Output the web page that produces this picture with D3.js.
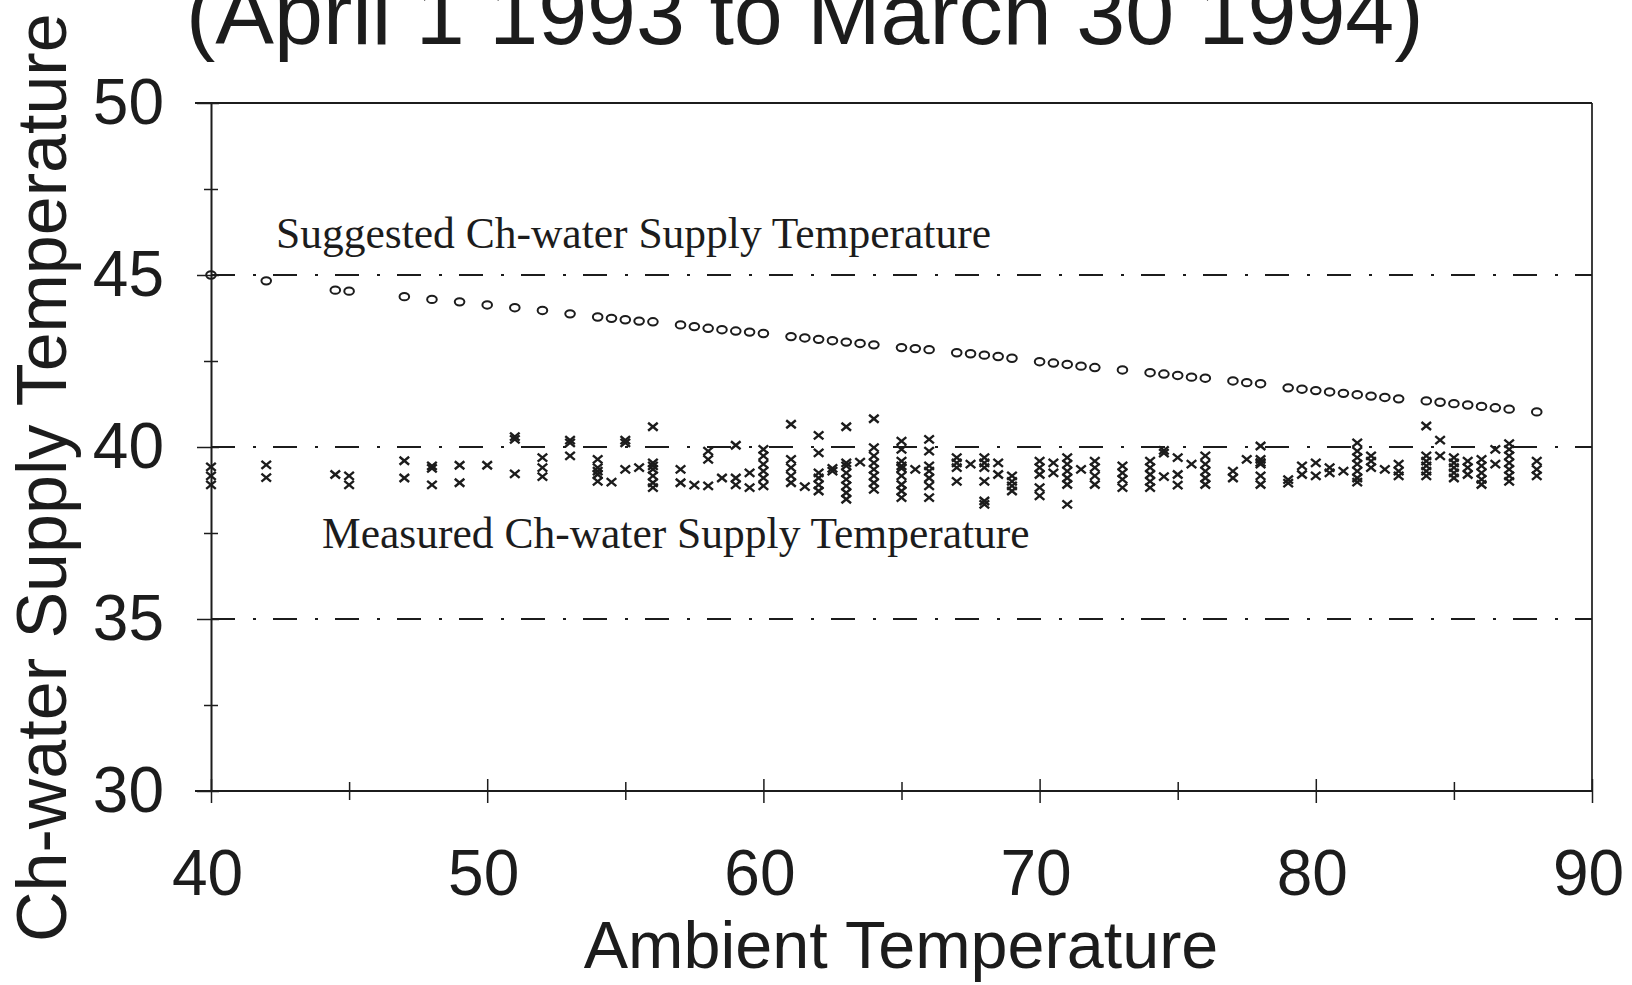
<!DOCTYPE html>
<html>
<head>
<meta charset="utf-8">
<script src="https://cdn.jsdelivr.net/npm/d3@7"></script>
<style>
  body { margin: 0; background: #fff; }
  svg { display: block; }
</style>
</head>
<body>
<div id="chart"></div>
<script>
// suggested supply temperature (circles)
var suggestX = [40, 42, 44.5, 45, 47, 48, 49, 50, 51, 52, 53, 54, 54.5, 55, 55.5, 56,
  57, 57.5, 58, 58.5, 59, 59.5, 60, 61, 61.5, 62, 62.5, 63, 63.5, 64, 65, 65.5, 66,
  67, 67.5, 68, 68.5, 69, 70, 70.5, 71, 71.5, 72, 73, 74, 74.5, 75, 75.5, 76,
  77, 77.5, 78, 79, 79.5, 80, 80.5, 81, 81.5, 82, 82.5, 83, 84, 84.5, 85, 85.5, 86, 86.5, 87, 88];
var suggestY = [45.0, 44.83, 44.56, 44.53, 44.37, 44.29, 44.22, 44.13, 44.05, 43.97, 43.87,
  43.78, 43.74, 43.7, 43.66, 43.64, 43.55, 43.5, 43.45, 43.41, 43.37, 43.34, 43.3,
  43.21, 43.17, 43.13, 43.09, 43.05, 43.01, 42.97, 42.89, 42.86, 42.83,
  42.74, 42.71, 42.67, 42.63, 42.58, 42.48, 42.44, 42.4, 42.35, 42.31, 42.24,
  42.16, 42.12, 42.08, 42.03, 42.0, 41.92, 41.87, 41.84,
  41.72, 41.68, 41.64, 41.6, 41.56, 41.52, 41.48, 41.44, 41.4,
  41.34, 41.3, 41.26, 41.22, 41.18, 41.14, 41.1, 41.02];

// measured supply temperature (crosses), one list of readings per ambient temperature
var measuredX = [40, 42, 44.5, 45, 47, 48, 49, 50, 51, 52, 53, 54, 54.5, 55, 55.5, 56,
  57, 57.5, 58, 58.5, 59, 59.5, 60, 61, 61.5, 62, 62.5, 63, 63.5, 64, 65, 65.5, 66,
  67, 67.5, 68, 68.5, 69, 70, 70.5, 71, 71.5, 72, 73, 74, 74.5, 75, 75.5, 76,
  77, 77.5, 78, 79, 79.5, 80, 80.5, 81, 81.5, 82, 82.5, 83, 84, 84.5, 85, 85.5, 86, 86.5, 87, 88];
var measuredY = [
  [39.42, 39.16, 38.9], [39.48, 39.11], [39.2], [39.16, 38.9], [39.6, 39.1],
  [39.45, 39.38, 38.9], [39.47, 38.96], [39.47], [40.3, 40.22, 39.22], [39.69, 39.4, 39.14],
  [40.2, 40.12, 39.74], [39.64, 39.4, 39.3, 39.2, 39.0], [38.98], [40.2, 40.12, 39.35], [39.4],
  [40.59, 39.54, 39.45, 39.35, 39.16, 38.96, 38.82],
  [39.35, 38.96], [38.89], [39.88, 39.64, 38.87], [39.1], [40.05, 39.1, 38.9], [39.25, 38.82],
  [39.93, 39.74, 39.5, 39.3, 39.1, 38.87], [40.66, 39.64, 39.4, 39.16, 38.96], [38.85],
  [40.34, 39.83, 39.25, 39.1, 38.9, 38.72], [39.38, 39.3],
  [40.59, 39.54, 39.45, 39.25, 39.06, 38.87, 38.67, 38.48], [39.56],
  [40.82, 39.98, 39.74, 39.54, 39.35, 39.16, 38.96, 38.77],
  [40.17, 39.93, 39.59, 39.45, 39.38, 39.16, 38.91, 38.72, 38.53], [39.35],
  [40.22, 39.88, 39.45, 39.3, 39.1, 38.87, 38.53],
  [39.69, 39.54, 39.4, 39.0], [39.5], [39.69, 39.54, 39.4, 39.0, 38.43, 38.33], [39.54, 39.2],
  [39.16, 39.0, 38.87, 38.72], [39.59, 39.4, 39.2, 38.82, 38.58], [39.54, 39.25],
  [39.69, 39.5, 39.3, 39.1, 38.91, 38.33], [39.35], [39.59, 39.4, 39.16, 38.91],
  [39.45, 39.25, 39.06, 38.82], [39.59, 39.4, 39.2, 39.0, 38.82], [39.9, 39.82, 39.14],
  [39.69, 39.2, 38.89], [39.5], [39.74, 39.5, 39.3, 39.1, 38.91],
  [39.3, 39.1], [39.64], [40.03, 39.64, 39.55, 39.5, 39.16, 38.91],
  [39.05, 38.95], [39.45, 39.2], [39.54, 39.16], [39.4, 39.25], [39.3],
  [40.12, 39.88, 39.69, 39.5, 39.3, 39.1, 38.98], [39.74, 39.59, 39.4], [39.35], [39.5, 39.3, 39.16],
  [40.61, 39.74, 39.59, 39.45, 39.3, 39.16], [40.2, 39.74], [39.69, 39.54, 39.4, 39.25, 39.1],
  [39.59, 39.4, 39.2], [39.64, 39.45, 39.25, 39.06, 38.91], [39.93, 39.5],
  [40.1, 39.93, 39.74, 39.54, 39.35, 39.16, 39.0], [39.59, 39.35, 39.16]
];

var refLines = [45, 40, 35];
var xMajor = [40, 50, 60, 70, 80, 90];
var xMinor = [45, 55, 65, 75, 85];
var yMajor = [30, 35, 40, 45, 50];
var yMinor = [32.5, 37.5, 42.5, 47.5];

var W = 1632, H = 985;
var ink = "#1c1c1c";
var sans = "'Liberation Sans', Arial, Helvetica, sans-serif";
var serif = "'Liberation Serif', 'Times New Roman', serif";

var svg = d3.select("#chart").append("svg")
  .attr("width", W).attr("height", H)
  .style("background", "#fff");

var x = d3.scaleLinear().domain([40, 90]).range([211, 1592]);
var y = d3.scaleLinear().domain([30, 50]).range([791, 103]);

// frame: top and right border
svg.append("line").attr("x1", 195).attr("x2", x(90)).attr("y1", y(50)).attr("y2", y(50))
  .attr("stroke", ink).attr("stroke-width", 2);
svg.append("line").attr("x1", x(90)).attr("x2", x(90)).attr("y1", y(50)).attr("y2", y(30))
  .attr("stroke", ink).attr("stroke-width", 1.7);

// reference dash-dot lines
svg.selectAll(".ref").data(refLines).enter().append("line")
  .attr("class", "ref")
  .attr("x1", x(40)).attr("x2", x(90))
  .attr("y1", d => y(d)).attr("y2", d => y(d))
  .attr("stroke", ink).attr("stroke-width", 2)
  .attr("stroke-dasharray", "24,18,3,17");

// x axis
var xAxis = svg.append("g")
  .attr("transform", "translate(0," + y(30) + ")")
  .call(d3.axisBottom(x).tickValues(xMajor).tickFormat(d3.format("d"))
    .tickSize(12).tickSizeOuter(0).tickPadding(47));
xAxis.select(".domain").attr("d", "M195,0H" + x(90)).attr("stroke", ink).attr("stroke-width", 2);
xAxis.selectAll(".tick line").attr("y1", -12).attr("stroke", ink).attr("stroke-width", 1.5);
xAxis.selectAll(".tick text").attr("dx", -4)
  .style("font-family", sans).style("font-size", "64px").attr("fill", ink);

var xAxisMinor = svg.append("g")
  .attr("transform", "translate(0," + y(30) + ")")
  .call(d3.axisBottom(x).tickValues(xMinor).tickFormat("").tickSize(9).tickSizeOuter(0));
xAxisMinor.select(".domain").remove();
xAxisMinor.selectAll(".tick line").attr("y1", -9).attr("stroke", ink).attr("stroke-width", 1.5);

// y axis
var yAxis = svg.append("g")
  .attr("transform", "translate(" + x(40) + ",0)")
  .call(d3.axisLeft(y).tickValues(yMajor).tickFormat(d3.format("d"))
    .tickSize(14).tickSizeOuter(0).tickPadding(33));
yAxis.select(".domain").attr("stroke", ink).attr("stroke-width", 2);
yAxis.selectAll(".tick line").attr("x2", 8).attr("x1", -14).attr("stroke", ink).attr("stroke-width", 1.5);
yAxis.selectAll(".tick text")
  .style("font-family", sans).style("font-size", "64px").attr("fill", ink);

var yAxisMinor = svg.append("g")
  .attr("transform", "translate(" + x(40) + ",0)")
  .call(d3.axisLeft(y).tickValues(yMinor).tickFormat("").tickSize(7).tickSizeOuter(0));
yAxisMinor.select(".domain").remove();
yAxisMinor.selectAll(".tick line").attr("x1", -7).attr("x2", 7).attr("stroke", ink).attr("stroke-width", 1.5);

// suggested (circles)
var suggestPts = suggestX.map((t, i) => ({t: t, v: suggestY[i]}));
svg.selectAll(".sug").data(suggestPts).enter().append("ellipse")
  .attr("class", "sug")
  .attr("cx", d => x(d.t)).attr("cy", d => y(d.v))
  .attr("rx", 4.8).attr("ry", 3.7)
  .attr("fill", "none").attr("stroke", ink).attr("stroke-width", 2);

// measured (crosses)
var measPts = [];
measuredX.forEach((t, i) => {
  measuredY[i].forEach(v => measPts.push({t: t, v: v}));
});
svg.selectAll(".meas").data(measPts).enter().append("path")
  .attr("class", "meas")
  .attr("transform", d => "translate(" + x(d.t) + "," + y(d.v) + ")")
  .attr("d", "M-4.8,-4L4.8,4M-4.8,4L4.8,-4")
  .attr("fill", "none").attr("stroke", ink).attr("stroke-width", 2.4);

// annotations
svg.append("text").attr("x", 276).attr("y", 248)
  .style("font-family", serif).style("font-size", "43.5px").attr("fill", ink)
  .text("Suggested Ch-water Supply Temperature");
svg.append("text").attr("x", 322).attr("y", 548)
  .style("font-family", serif).style("font-size", "43.5px").attr("fill", ink)
  .text("Measured Ch-water Supply Temperature");

// title (cut off at the top of the page, as in the source)
svg.append("text").attr("x", 186).attr("y", 44)
  .style("font-family", sans).style("font-size", "88px").attr("fill", ink)
  .text("(April 1 1993 to March 30 1994)");

// axis labels
svg.append("text").attr("x", 901).attr("y", 968)
  .attr("text-anchor", "middle")
  .style("font-family", sans).style("font-size", "66.5px").attr("fill", ink)
  .text("Ambient Temperature");

svg.append("text")
  .attr("transform", "translate(66,942) rotate(-90)")
  .style("font-family", sans).style("font-size", "70px").attr("fill", ink)
  .text("Ch-water Supply Temperature");
</script>
</body>
</html>
